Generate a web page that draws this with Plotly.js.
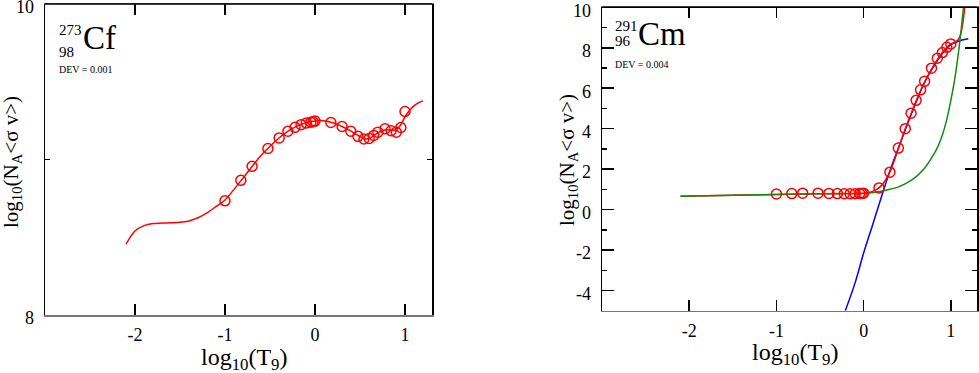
<!DOCTYPE html>
<html>
<head>
<meta charset="utf-8">
<script src="https://cdn.plot.ly/plotly-3.0.1.min.js"></script>
<style>
  html, body { margin: 0; padding: 0; background: #fff; }
  #chart { width: 979px; height: 373px; }
</style>
</head>
<body>
<div id="chart"></div>
<script>
// temperature grid, log10(T9), shared by both nuclei
const gridT = [-1, -0.824, -0.699, -0.523, -0.398, -0.301, -0.222, -0.155, -0.097, -0.046, -0.022, 0,
               0.176, 0.301, 0.398, 0.477, 0.544, 0.602, 0.653, 0.699, 0.778, 0.845, 0.903, 0.954, 1.0];

// 273Cf : computed rates and fit
const cfRate = [8.734, 8.866, 8.956, 9.071, 9.139, 9.182, 9.207, 9.224, 9.235, 9.240, 9.243, 9.247,
                9.238, 9.212, 9.182, 9.149, 9.132, 9.135, 9.155, 9.176, 9.197, 9.185, 9.175, 9.206, 9.309];
const cfFitT = [-2.1, -2.0, -1.9, -1.8, -1.7, -1.6, -1.5, -1.4, -1.3, -1.2, -1.1, -1.0, -0.9, -0.8, -0.7,
                -0.6, -0.5, -0.4, -0.3, -0.2, -0.1, 0, 0.1, 0.2, 0.3, 0.4, 0.5, 0.55, 0.6, 0.65, 0.7,
                0.75, 0.8, 0.85, 0.9, 0.95, 1.0, 1.05, 1.1, 1.15, 1.2];
const cfFit = [8.455, 8.54, 8.575, 8.588, 8.591, 8.593, 8.596, 8.605, 8.625, 8.657, 8.697, 8.74, 8.808,
               8.88, 8.955, 9.025, 9.085, 9.138, 9.182, 9.215, 9.236, 9.247, 9.25, 9.236, 9.212, 9.183,
               9.148, 9.133, 9.135, 9.152, 9.172, 9.186, 9.192, 9.188, 9.19, 9.22, 9.275, 9.315, 9.345,
               9.365, 9.377];

// 291Cm : computed rates and the three fit curves
const cmRate = [0.77, 0.79, 0.81, 0.81, 0.80, 0.79, 0.78, 0.78, 0.78, 0.79, 0.80, 0.81,
                1.07, 1.85, 3.04, 4.0, 4.76, 5.40, 5.92, 6.34, 6.99, 7.48, 7.76, 8.02, 8.19];
const cmRedT = [-2.1, -1.5, -1.0, -0.5, -0.2, 0, 0.05, 0.1, 0.15, 0.2, 0.25, 0.3, 0.35, 0.4, 0.45, 0.5,
                0.55, 0.6, 0.65, 0.7, 0.75, 0.8, 0.85, 0.9, 0.95, 1.0, 1.05, 1.08, 1.1, 1.12, 1.135,
                1.145, 1.16];
const cmRed = [0.66, 0.71, 0.75, 0.78, 0.79, 0.81, 0.84, 0.9, 1.0, 1.17, 1.45, 1.85, 2.4, 3.04, 3.66,
               4.25, 4.8, 5.35, 5.85, 6.3, 6.72, 7.1, 7.45, 7.75, 8.0, 8.18, 8.28, 8.38, 8.52, 8.8,
               9.15, 9.45, 10.05];
const cmGreenT = [-2.1, -1.5, -1.0, -0.5, 0, 0.1, 0.2, 0.3, 0.4, 0.5, 0.6, 0.7, 0.8, 0.85, 0.9, 0.95,
                  1.0, 1.05, 1.1, 1.15];
const cmGreen = [0.66, 0.71, 0.75, 0.78, 0.8, 0.83, 0.9, 1.0, 1.12, 1.33, 1.62, 2.05, 2.7, 3.1, 3.65,
                 4.4, 5.4, 6.6, 8.2, 10.2];
const cmBlueT = [-0.21, -0.1, 0, 0.1, 0.2, 0.3, 0.4, 0.5, 0.6, 0.7, 0.8, 0.9, 1.0, 1.1, 1.2];
const cmBlue = [-5, -3.65, -2.15, -0.8, 0.57, 1.9, 3.05, 4.2, 5.3, 6.3, 7.05, 7.7, 8.15, 8.35, 8.45];

// axis ticks
const xTickVals = [-2, -1, 0, 1];
const xTickText = ['-2', '-1', '0', '1'];
const cfTickVals = [8, 9, 10];
const cfTickText = ['8', '', '10'];
const cmTickVals = [-4, -2, 0, 2, 4, 6, 8, 10];
const cmTickText = ['-4', '-2', '0', '2', '4', '6', '8', '10'];

const W = 979, H = 373;
const px = v => v / W;
const py = v => 1 - v / H;

const serif = '"Liberation Serif", "Times New Roman", serif';
const red = '#ff0000';

function fitLine(x, y, color, xa, ya) {
  return { x: x, y: y, xaxis: xa, yaxis: ya, mode: 'lines', showlegend: false,
           line: { color: color, width: 1.5, shape: 'spline' }, hoverinfo: 'skip' };
}
function ratePoints(x, y, xa, ya) {
  return { x: x, y: y, xaxis: xa, yaxis: ya, mode: 'markers', showlegend: false,
           marker: { symbol: 'circle-open', size: 10, color: red, line: { color: red, width: 1.5 } } };
}

const data = [
  fitLine(cfFitT, cfFit, red, 'x', 'y'),
  ratePoints(gridT, cfRate, 'x', 'y'),
  fitLine(cmBlueT, cmBlue, '#0000ff', 'x2', 'y2'),
  fitLine(cmRedT, cmRed, red, 'x2', 'y2'),
  fitLine(cmGreenT, cmGreen, '#128c12', 'x2', 'y2'),
  ratePoints(gridT, cmRate, 'x2', 'y2')
];

function xAxis(domain, anchor) {
  return {
    domain: domain, anchor: anchor, range: [-3, 1.3],
    tickvals: xTickVals, ticktext: xTickText,
    ticks: 'inside', ticklen: 11, tickwidth: 1.5, tickcolor: '#000',
    showline: true, linecolor: '#777', linewidth: 1.5, mirror: 'ticks',
    showgrid: false, zeroline: false, ticklabeloverflow: 'allow',
    tickfont: { family: serif, size: 18, color: '#000' }, ticklabelstandoff: 3
  };
}

function yAxis(domain, anchor, range, vals, text, len) {
  return {
    domain: domain, anchor: anchor, range: range,
    tickvals: vals, ticktext: text,
    ticks: 'inside', ticklen: len, tickwidth: 1.5, tickcolor: '#000',
    showline: true, linecolor: '#000', linewidth: 1.5, mirror: 'ticks',
    showgrid: false, zeroline: false, ticklabeloverflow: 'allow',
    tickfont: { family: serif, size: 18, color: '#000' }, ticklabelstandoff: 6,
    ticklabelshift: 3
  };
}

const layout = {
  width: W, height: H,
  margin: { l: 0, r: 0, t: 0, b: 0 },
  paper_bgcolor: '#fff', plot_bgcolor: '#fff',
  showlegend: false,
  xaxis: xAxis([px(45), px(432)], 'y'),
  yaxis: yAxis([py(315), py(4)], 'x', [8, 10], cfTickVals, cfTickText, 5),
  xaxis2: xAxis([px(602), px(977)], 'y2'),
  yaxis2: yAxis([py(310.7), py(7.3)], 'x2', [-5, 10], cmTickVals, cmTickText, 12),
  shapes: [
    { type: 'line', xref: 'x domain', yref: 'y domain', x0: 0, x1: 1, y0: 1, y1: 1,
      line: { color: '#000', width: 1.5 } },
    { type: 'line', xref: 'x2 domain', yref: 'y2 domain', x0: 0, x1: 1, y0: 1, y1: 1,
      line: { color: '#000', width: 1.5 } }
  ],
  annotations: []
};
layout.yaxis2.minor = { dtick: 1, tick0: 0, ticks: 'inside', ticklen: 5, tickwidth: 1.5, tickcolor: '#000' };

function label(text, x, y, size, xanchor, angle) {
  layout.annotations.push({
    text: text, xref: 'paper', yref: 'paper', x: px(x), y: py(y),
    xanchor: xanchor || 'left', yanchor: 'middle', showarrow: false,
    textangle: angle || 0, font: { family: serif, size: size, color: '#000' }
  });
}

// nuclide names
label('273', 57, 30, 15);
label('98', 57, 52, 15);
label('Cf', 81, 38, 33);
label('DEV = 0.001', 57, 69, 10);
label('291', 613, 26, 15);
label('96', 613, 41, 15);
label('Cm', 636, 34, 33);
label('DEV = 0.004', 613, 64, 10);

// axis titles
const xTitle = 'log<sub>10</sub>(T<sub>9</sub>)';
const yTitle = 'log<sub>10</sub>(N<sub>A</sub>&lt;σ v&gt;)';
label(xTitle, 245, 359, 24, 'center');
label(xTitle, 795, 354, 24, 'center');
label(yTitle, 12, 162, 21, 'center', -90);
label(yTitle, 568, 160, 21, 'center', -90);

Plotly.newPlot('chart', data, layout, { staticPlot: true });
</script>
</body>
</html>
